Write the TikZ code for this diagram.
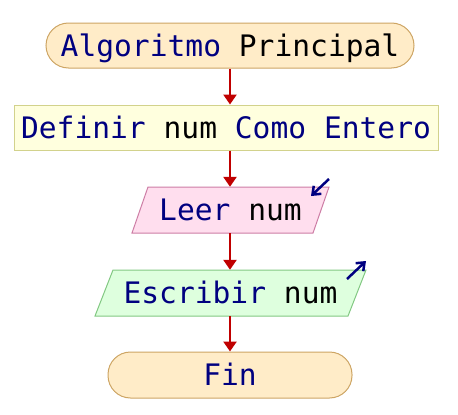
\documentclass[tikz,border=0pt]{standalone}
\usepackage{fontspec}
\setmonofont{DejaVu Sans Mono}
\usetikzlibrary{arrows.meta}
\definecolor{kw}{RGB}{0,0,128}
\definecolor{flowred}{RGB}{192,0,0}
\definecolor{termfill}{RGB}{255,236,200}
\definecolor{termdraw}{RGB}{205,165,100}
\definecolor{deffill}{RGB}{255,255,222}
\definecolor{defdraw}{RGB}{210,210,140}
\definecolor{infill}{RGB}{255,222,238}
\definecolor{indraw}{RGB}{205,125,165}
\definecolor{outfill}{RGB}{222,255,222}
\definecolor{outdraw}{RGB}{130,200,130}
\tikzset{
  txt/.style={font=\ttfamily\fontsize{29.6}{29.6}\selectfont, text height=21pt, text depth=0pt, inner sep=0pt, text=kw},
  term/.style={txt, draw=termdraw, fill=termfill, line width=1pt, rounded corners=22.5pt},
  defbox/.style={txt, draw=defdraw, fill=deffill, line width=1pt},
  plain/.style={txt},
  flow/.style={draw=flowred, line width=2.6pt, -{Triangle[width=13pt,length=10pt]}},
  icon/.style={draw=kw, line width=2.5pt, -{Straight Barb[length=7pt,width=11pt]}},
  para/.style={line width=1pt},
}
\begin{document}
\begin{tikzpicture}[x=1pt,y=-1pt]
\useasboundingbox (0,0) rectangle (458,415);
\node[term, minimum width=368pt, minimum height=45pt] (start) at (230,45.5) {Algoritmo \textcolor{black}{Principal}};
\node[defbox, minimum width=424pt, minimum height=45pt] (def) at (226,127.5) {Definir \textcolor{black}{num} Como Entero};
% Leer parallelogram
\filldraw[para, draw=indraw, fill=infill] (148,187) -- (329,187) -- (313,233) -- (132,233) -- cycle;
\node[plain, minimum width=150pt, minimum height=46pt] (leer) at (230.5,210) {Leer \textcolor{black}{num}};
% Escribir parallelogram
\filldraw[para, draw=outdraw, fill=outfill] (113,270) -- (366,270) -- (348,316) -- (95,316) -- cycle;
\node[plain, minimum width=220pt, minimum height=46pt] (escr) at (230.5,293) {Escribir \textcolor{black}{num}};
\node[term, minimum width=244pt, minimum height=46pt] (fin) at (230,375) {Fin};
% icons
\draw[icon] (329,179) -- (311,196);
\draw[icon] (347,279) -- (366,261);
% connectors
\draw[flow] (start.south -| 230,0) -- (def.north -| 230,0);
\draw[flow] (def.south -| 230,0) -- (leer.north -| 230,0);
\draw[flow] (leer.south -| 230,0) -- (escr.north -| 230,0);
\draw[flow] (escr.south -| 230,0) -- (fin.north);
\end{tikzpicture}
\end{document}
